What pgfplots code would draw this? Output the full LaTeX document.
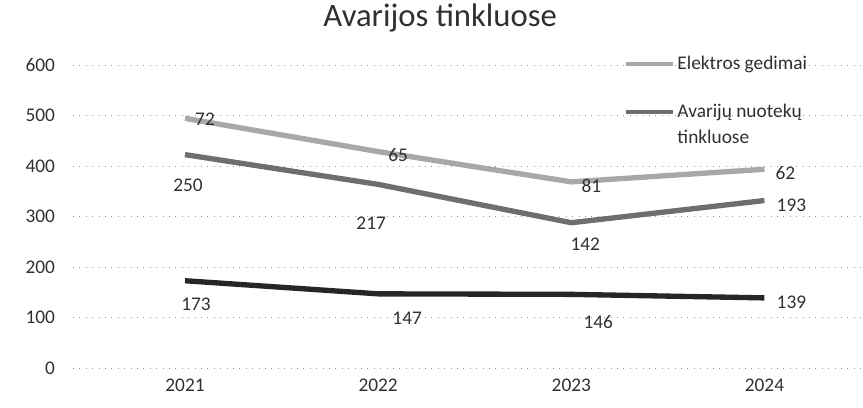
\documentclass[border=0pt]{standalone}
\usepackage{fontspec}
\setmainfont{Carlito}
\usepackage{pgfplots}
\pgfplotsset{compat=1.18}
\usepackage{pgfplotstable}

\definecolor{cA}{HTML}{A8A8A8}
\definecolor{cB}{HTML}{6E6E6E}
\definecolor{cC}{HTML}{262626}
\definecolor{txt}{HTML}{303030}

% bottom series (third, legend cut off in reference)
\pgfplotstableread{
x y dx dy
0 173 11 24
1 147 29 24
2 146 27 28
3 139 27 4
}\tabC
% Avariju nuoteku tinkluose
\pgfplotstableread{
x y dx dy
0 250 3 31
1 217 -7 39
2 142 14 22
3 193 27 5
}\tabB
% Elektros gedimai
\pgfplotstableread{
x y dx dy
0 72 20 1
1 65 20 3
2 81 20 4
3 62 21 4
}\tabA

\begin{document}
\begin{tikzpicture}
\useasboundingbox (-54.75pt,-29.25pt) rectangle (592.5pt,276pt);
\begin{axis}[
  at={(0pt,0pt)}, anchor=south west,
  scale only axis, width=591pt, height=227pt,
  xmin=-0.58, xmax=3.5, ymin=0, ymax=600,
  ytick={0,100,...,600},
  xtick={0,1,2,3}, xticklabels={2021,2022,2023,2024},
  /pgf/number format/assume math mode=true,
  stack plots=y,
  axis line style={draw=none},
  major tick length=0pt,
  ymajorgrids,
  major grid style={gray!80, line width=0.5pt, dash pattern=on 0.8pt off 4pt},
  tick label style={font=\fontsize{14.5}{17}\selectfont, text=txt},
  yticklabel style={xshift=-10pt},
  xticklabel style={yshift=-5pt},
  title={Avarijos tinkluose},
  title style={font=\fontsize{24.5}{29}\selectfont, text=txt, at={(axis description cs:0.466,1.129)}, anchor=center},
  clip=false,
  nodes near coords={\pgfmathprintnumber{\pgfplotspointmeta}},
  point meta=explicit,
  visualization depends on={\thisrow{dx} \as \dx},
  visualization depends on={\thisrow{dy} \as \dy},
  every node near coord/.append style={font=\fontsize{14.5}{17}\selectfont, text=txt, anchor=center, xshift={\dx*0.75pt}, yshift={-\dy*0.75pt}},
  legend style={draw=none, fill=none, font=\fontsize{14.5}{19}\selectfont, text=txt,
    at={(rel axis cs:0.694,1.05)}, anchor=north west, row sep=21pt,
    cells={anchor=west, align=left}},
  legend cell align=left,
  reverse legend,
  legend image code/.code={\draw[#1, line width=3pt] (0pt,0pt) -- (35pt,0pt);},
]
\addplot[cC, line width=4pt, mark=none, forget plot] table[x=x, y=y, meta=y] {\tabC};
\addplot[cB, line width=4pt, mark=none,
  legend image code/.code={\draw[cB, line width=3pt] (0pt,9.5pt) -- (35pt,9.5pt);}] table[x=x, y=y, meta=y] {\tabB};
\addlegendentry{Avarijų nuotekų\\tinkluose}
\addplot[cA, line width=4pt, mark=none] table[x=x, y=y, meta=y] {\tabA};
\addlegendentry{Elektros gedimai}
\end{axis}
\end{tikzpicture}
\end{document}
